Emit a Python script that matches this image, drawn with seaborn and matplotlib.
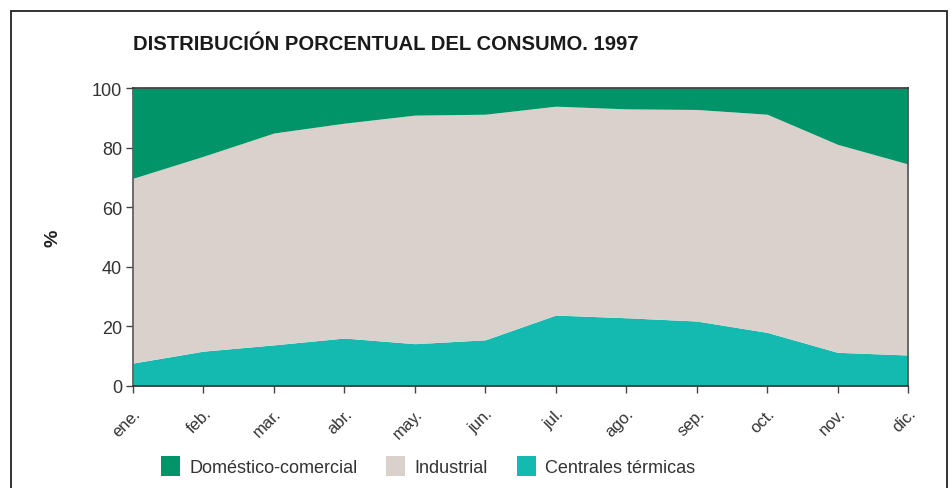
import matplotlib

matplotlib.use("Agg")
import matplotlib.pyplot as plt
import numpy as np
import pandas as pd
import seaborn as sns
from matplotlib.patches import Patch, Rectangle

MONTHS = ["ene.", "feb.", "mar.", "abr.", "may.", "jun.",
          "jul.", "ago.", "sep.", "oct.", "nov.", "dic."]

# share of each use, percent
CENTRALES = [7.7, 11.7, 13.8, 16.1, 14.2, 15.5, 23.8, 22.9, 21.8, 18.0, 11.3, 10.4]
INDUSTRIAL = [62.0, 65.4, 71.1, 72.1, 76.7, 75.7, 70.1, 70.1, 71.0, 73.2, 69.8, 64.1]
DOMESTICO = [30.3, 22.9, 15.1, 11.8, 9.1, 8.8, 6.1, 7.0, 7.2, 8.8, 18.9, 25.5]

SERIES = ["Doméstico-comercial", "Industrial", "Centrales térmicas"]
COLORS = {"Doméstico-comercial": "#009468",
          "Industrial": "#dbd1cc",
          "Centrales térmicas": "#14b9b0"}

TITLE = "DISTRIBUCIÓN PORCENTUAL DEL CONSUMO. 1997"

sns.set_theme(style="white")
plt.rcParams["font.family"] = ["Liberation Sans", "DejaVu Sans"]

df = pd.DataFrame({
    "mes": MONTHS,
    "Centrales térmicas": CENTRALES,
    "Industrial": INDUSTRIAL,
    "Doméstico-comercial": DOMESTICO,
})
x = np.arange(len(df))

fig = plt.figure(figsize=(9.52, 4.89), dpi=100)
ax = fig.add_axes([133 / 952, 1 - 387 / 489, (908 - 133) / 952, (387 - 89) / 489])

stack_order = ["Centrales térmicas", "Industrial", "Doméstico-comercial"]
ax.stackplot(x, [df[s] for s in stack_order],
             colors=[COLORS[s] for s in stack_order], linewidth=0)

ax.set_xlim(0, len(df) - 1)
ax.set_ylim(0, 100)
ax.set_yticks([0, 20, 40, 60, 80, 100])
ax.set_xticks(x)
ax.set_xticklabels(df["mes"], rotation=45, ha="right", va="top",
                   rotation_mode="anchor", color="#333333", fontsize=12)
ax.tick_params(axis="y", labelsize=13, labelcolor="#333333", length=5,
               width=1, color="#444444", direction="out", left=True, pad=3)
ax.tick_params(axis="x", length=5, width=1, color="#444444", direction="out",
               bottom=True, pad=9)
for side, spine in ax.spines.items():
    spine.set_visible(True)
    spine.set_color("#555555" if side in ("left", "right") else "#333333")
    spine.set_linewidth(1.2)

ax.set_ylabel("%", fontsize=14, fontweight="bold", color="#222222")
ax.yaxis.set_label_coords((61 - 133) / 775, 0.5)

fig.text(133 / 952, 1 - 45 / 489, TITLE, fontsize=14.6, fontweight="bold",
         color="#1a1a1a", ha="left", va="center")

handles = [Patch(facecolor=COLORS[s], edgecolor="none") for s in SERIES]
fig.legend(handles, SERIES, loc="center left", bbox_to_anchor=(145 / 952, 1 - 467 / 489),
           ncol=3, frameon=False, fontsize=13, handlelength=1.05, handleheight=1.4,
           handletextpad=0.5, columnspacing=1.6, labelcolor="#333333")

# outer frame of the page box (bottom edge cut off)
fig.patches.append(Rectangle((11 / 952, -0.05), (947 - 11) / 952, 1 - 12 / 489 + 0.05,
                             transform=fig.transFigure, fill=False,
                             edgecolor="#222222", linewidth=1.3))

fig.savefig("out.png", dpi=100)
